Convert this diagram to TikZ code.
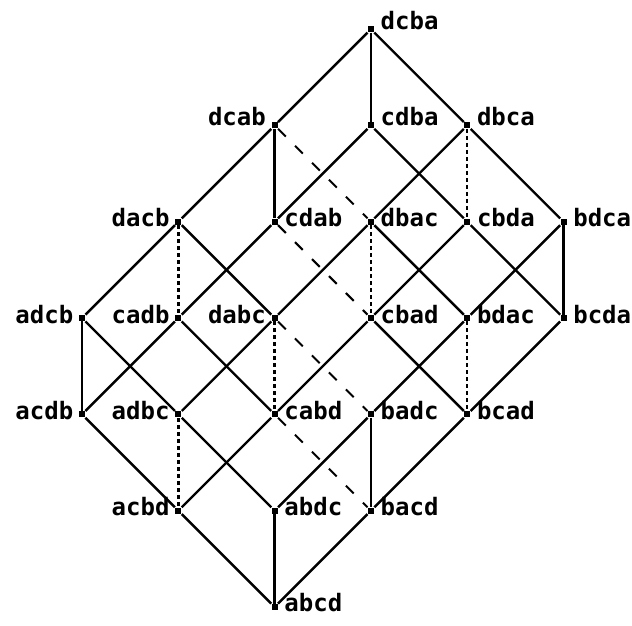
\documentclass[tikz,border=0pt]{standalone}
\usepackage{fontspec}
\newfontfamily\permfont{DejaVu Sans Mono}
\usetikzlibrary{positioning}

\begin{document}
\begin{tikzpicture}[
    x=48.15pt, y=48.15pt,
    perm/.style={fill, rectangle, inner sep=0pt, minimum size=3pt},
    tag/.style={inner sep=0pt, font=\permfont\bfseries\fontsize{12}{14}\selectfont},
    tagr/.style={tag, anchor=base west, xshift=3pt, yshift=-2.5pt},
    tagl/.style={tag, anchor=base east, xshift=-2.5pt, yshift=-2.5pt},
    tagrh/.style={tagr, yshift=2.5pt},
    taglh/.style={tagl, yshift=2.5pt},
    rel/.style={line width=1.2pt},
    hidden/.style={line width=1pt, dash pattern=on 5.5pt off 6.5pt},
    hiddenv/.style={line width=1.2pt, dash pattern=on 2pt off 1.5pt}
]
\useasboundingbox (-0.852,-0.197) rectangle (5.711,6.303);

% top
\node[perm, label={[tagrh]right:dcba}] (dcba) at (3,6) {};
\node[perm, label={[taglh]left:dcab}] (dcab) at (2,5) {};
\node[perm, label={[tagrh]right:cdba}] (cdba) at (3,5) {};
\node[perm, label={[tagrh]right:dbca}] (dbca) at (4,5) {};
% middle
\node[perm, label={[tagl]left:dacb}] (dacb) at (1,4) {};
\node[perm, label={[tagr]right:cdab}] (cdab) at (2,4) {};
\node[perm, label={[tagr]right:dbac}] (dbac) at (3,4) {};
\node[perm, label={[tagr]right:cbda}] (cbda) at (4,4) {};
\node[perm, label={[tagr]right:bdca}] (bdca) at (5,4) {};
\node[perm, label={[tagl]left:adcb}] (adcb) at (0,3) {};
\node[perm, label={[tagl]left:cadb}] (cadb) at (1,3) {};
\node[perm, label={[tagl]left:dabc}] (dabc) at (2,3) {};
\node[perm, label={[tagr]right:cbad}] (cbad) at (3,3) {};
\node[perm, label={[tagr]right:bdac}] (bdac) at (4,3) {};
\node[perm, label={[tagr]right:bcda}] (bcda) at (5,3) {};
\node[perm, label={[tagl]left:acdb}] (acdb) at (0,2) {};
\node[perm, label={[tagl]left:adbc}] (adbc) at (1,2) {};
\node[perm, label={[tagr]right:cabd}] (cabd) at (2,2) {};
\node[perm, label={[tagr]right:badc}] (badc) at (3,2) {};
\node[perm, label={[tagr]right:bcad}] (bcad) at (4,2) {};
% bottom
\node[perm, label={[tagl]left:acbd}] (acbd) at (1,1) {};
\node[perm, label={[tagr]right:abdc}] (abdc) at (2,1) {};
\node[perm, label={[tagr]right:bacd}] (bacd) at (3,1) {};
\node[perm, label={[tagr]right:abcd}] (abcd) at (2,0) {};

\draw[rel] (dcba) -- (dcab);
\draw[rel] (dcba) -- (cdba);
\draw[rel] (dcba) -- (dbca);
\draw[rel] (dcab) -- (dacb);
\draw[rel] (dcab) -- (cdab);
\draw[rel] (cdba) -- (cdab);
\draw[rel] (cdba) -- (cbda);
\draw[rel] (dbca) -- (dbac);
\draw[rel] (dbca) -- (bdca);
\draw[rel] (dacb) -- (adcb);
\draw[rel] (dacb) -- (dabc);
\draw[rel] (cdab) -- (cadb);
\draw[rel] (dbac) -- (dabc);
\draw[rel] (dbac) -- (bdac);
\draw[rel] (cbda) -- (cbad);
\draw[rel] (cbda) -- (bcda);
\draw[rel] (bdca) -- (bdac);
\draw[rel] (bdca) -- (bcda);
\draw[rel] (adcb) -- (acdb);
\draw[rel] (adcb) -- (adbc);
\draw[rel] (cadb) -- (acdb);
\draw[rel] (cadb) -- (cabd);
\draw[rel] (dabc) -- (adbc);
\draw[rel] (cbad) -- (cabd);
\draw[rel] (cbad) -- (bcad);
\draw[rel] (bdac) -- (badc);
\draw[rel] (bcda) -- (bcad);
\draw[rel] (acdb) -- (acbd);
\draw[rel] (adbc) -- (abdc);
\draw[rel] (cabd) -- (acbd);
\draw[rel] (badc) -- (abdc);
\draw[rel] (badc) -- (bacd);
\draw[rel] (bcad) -- (bacd);
\draw[rel] (acbd) -- (abcd);
\draw[rel] (abdc) -- (abcd);
\draw[rel] (bacd) -- (abcd);

% hidden edges
\draw[hidden] (dcab) -- (dbac);
\draw[hidden] (cdab) -- (cbad);
\draw[hidden] (dabc) -- (badc);
\draw[hidden] (cabd) -- (bacd);
\draw[hiddenv] (dbca) -- (cbda);
\draw[hiddenv] (dacb) -- (cadb);
\draw[hiddenv] (dbac) -- (cbad);
\draw[hiddenv] (dabc) -- (cabd);
\draw[hiddenv] (adbc) -- (acbd);
\draw[hiddenv] (bdac) -- (bcad);
\end{tikzpicture}
\end{document}
